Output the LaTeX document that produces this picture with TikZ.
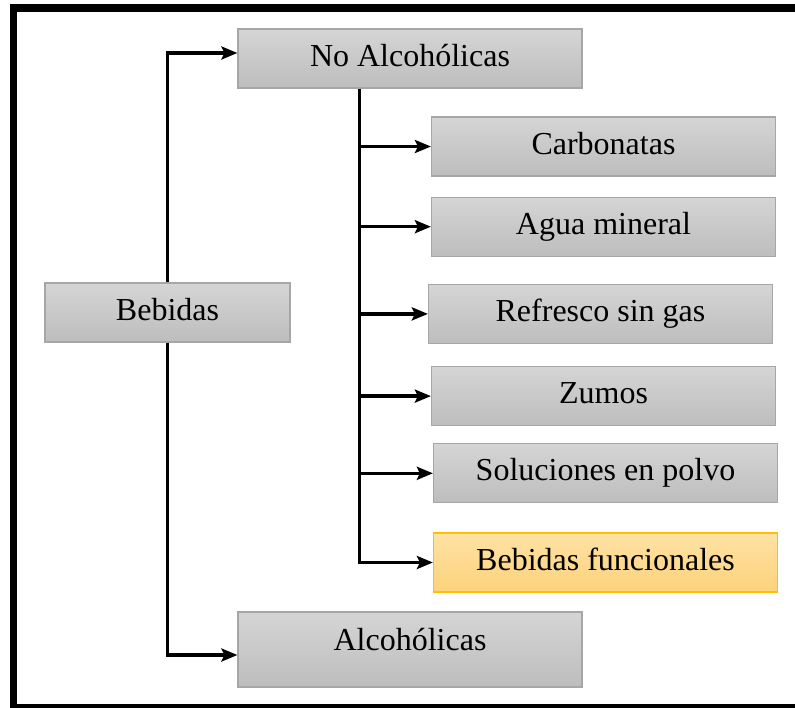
\documentclass[tikz,border=0pt]{standalone}
\usepackage{fontspec}
\setmainfont{Liberation Serif}
\usetikzlibrary{arrows.meta,positioning}
\definecolor{gtop}{HTML}{D5D5D5}
\definecolor{gbot}{HTML}{BDBDBD}
\definecolor{gline}{HTML}{A6A6A6}
\definecolor{ytop}{HTML}{FEE2A4}
\definecolor{ybot}{HTML}{FDD27B}
\definecolor{yline}{HTML}{FFC000}

\begin{document}
\begin{tikzpicture}[x=0.5pt,y=-0.5pt,font=\fontsize{16}{19}\selectfont,>={Stealth[length=8pt,width=6.5pt,inset=1.5pt]},node distance=11pt]
  \tikzstyle{box}=[draw=gline,line width=0.6pt,top color=gtop,bottom color=gbot,minimum width=172pt,minimum height=29.5pt,text height=11pt,text depth=3.5pt,inner sep=0pt]
  \tikzstyle{hl}=[box,draw=yline,top color=ytop,bottom color=ybot]
  \tikzstyle{link}=[->,line width=1.7pt]
  \useasboundingbox (0,0) rectangle (795,707);
  % frame
  \draw[line width=3.6pt] (800,8) -- (13.5,8) -- (13.5,708) -- (800,708);

  % root and the two groups
  \node[box,minimum width=122.5pt] (beb) at (167.5,312.5) {Bebidas};
  \node[box] (noalc) at (410,58.5) {No Alcohólicas};
  \node[box,minimum height=37.5pt,text depth=10.5pt] (alc) at (410,649.5) {Alcohólicas};
  % kinds of no alcoholicas
  \node[box] (carb) at (603.5,146.5) {Carbonatas};
  \node[box,below=10pt of carb] (agua) {Agua mineral};
  \node[box,below=13.5pt of agua,xshift=-1.5pt] (refr) {Refresco sin gas};
  \node[box,below=of refr,xshift=1.5pt] (zumo) {Zumos};
  \node[box,below=8.5pt of zumo,xshift=1pt] (solu) {Soluciones en polvo};
  \node[hl,below=14.5pt of solu] (func) {Bebidas funcionales};

  \draw[link] (beb.north) |- ([yshift=2.75pt]noalc.west);
  \draw[link] (beb.south) |- ([yshift=-2.75pt]alc.west);
  \coordinate (trk) at ([xshift=61pt]noalc.south west);
  \draw[link] (trk) |- (func.west);
  \foreach \n in {carb,agua,refr,zumo,solu}
    \draw[link] (trk |- \n.west) -- (\n.west);
\end{tikzpicture}
\end{document}
